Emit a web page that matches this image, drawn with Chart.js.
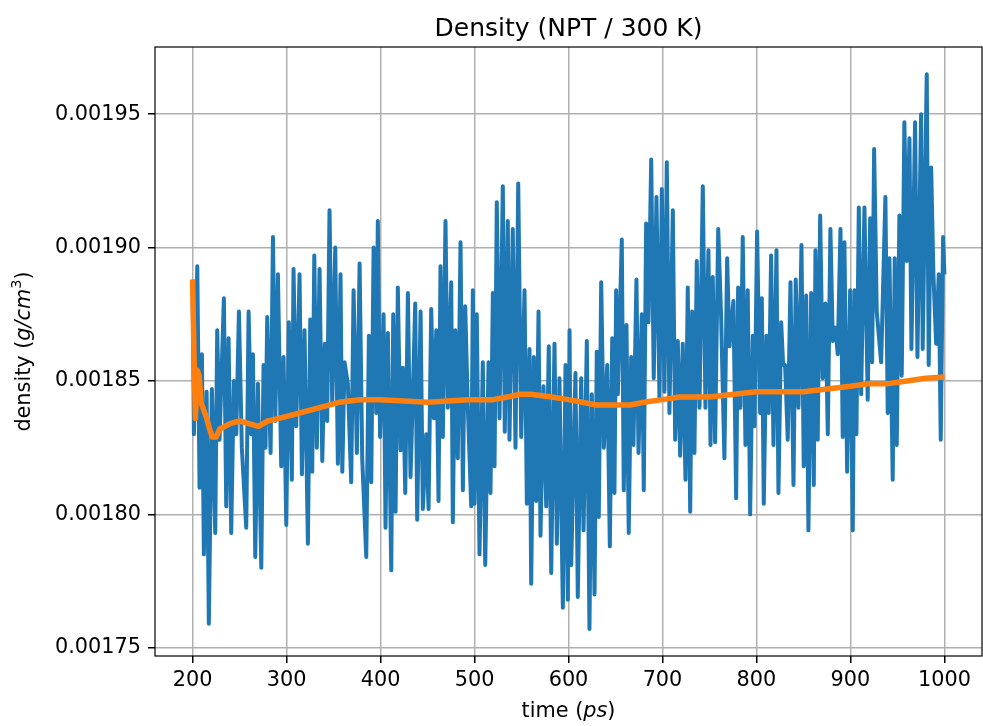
<!DOCTYPE html>
<html>
<head>
<meta charset="utf-8">
<script src="https://cdn.jsdelivr.net/npm/chart.js@4.4.1/dist/chart.umd.min.js"></script>
<style>
  body { margin: 0; background: #fff; }
  canvas { display: block; }
</style>
</head>
<body>
<canvas id="density" width="983" height="726"></canvas>
<script>
var titleText = "Density (NPT / 300 K)";

// instantaneous density (time in ps, density in 1e-5 g/cm3)
var timeRaw = [
  200.0, 201.4, 205.0, 207.4, 209.9, 212.0, 214.9, 217.3, 220.5, 224.1, 226.2, 228.7, 233.3, 235.8, 238.3, 241.1,
  243.9, 246.5, 249.3, 252.4, 257.1, 259.6, 262.4, 264.2, 266.7, 269.5, 273.1, 275.5, 277.6, 279.4, 283.0, 285.5,
  288.0, 290.8, 294.3, 296.8, 299.7, 302.4, 305.6, 307.4, 310.3, 313.8, 316.3, 319.1, 322.7, 325.2, 327.3, 329.5,
  332.2, 335.1, 338.0, 340.7, 343.2, 345.7, 348.6, 351.8, 354.6, 357.4, 359.3, 361.7, 365.2, 368.8, 371.3, 374.8,
  377.7, 380.5, 384.8, 387.6, 390.1, 392.6, 395.4, 397.1, 399.5, 403.2, 405.3, 407.8, 411.4, 413.5, 416.0, 418.4,
  421.3, 423.7, 426.3, 429.1, 431.9, 434.0, 436.9, 439.0, 442.6, 445.0, 448.6, 451.1, 453.9, 456.7, 459.3, 461.7,
  463.8, 466.3, 469.1, 471.6, 475.2, 476.9, 479.5, 482.2, 485.1, 487.6, 490.1, 492.9, 496.5, 498.2, 500.0, 502.4,
  505.3, 508.8, 511.4, 514.9, 517.0, 519.5, 521.3, 523.7, 526.6, 530.1, 532.2, 535.4, 537.2, 540.7, 543.6, 546.5,
  549.7, 553.2, 555.7, 558.5, 560.3, 563.1, 565.6, 568.1, 570.2, 573.4, 576.3, 579.0, 581.6, 585.1, 587.6, 590.4,
  594.0, 596.8, 599.3, 601.1, 602.9, 607.4, 609.9, 613.5, 616.0, 619.5, 622.3, 624.8, 627.7, 630.1, 632.2, 634.8,
  637.6, 641.2, 644.0, 646.5, 648.9, 650.7, 652.5, 656.7, 658.8, 661.7, 664.1, 666.7, 669.1, 672.3, 674.5, 678.0,
  680.1, 682.6, 685.1, 688.0, 690.7, 693.6, 696.8, 699.3, 702.1, 704.6, 707.4, 711.0, 713.5, 716.3, 718.8, 721.6,
  724.5, 726.9, 729.5, 731.6, 734.0, 736.5, 739.4, 742.9, 745.7, 748.9, 751.1, 753.5, 756.0, 759.3, 762.4, 765.9,
  768.8, 771.3, 775.5, 778.4, 780.5, 783.0, 785.4, 788.3, 790.7, 793.3, 796.1, 797.9, 800.7, 803.9, 805.7, 807.8,
  810.6, 813.1, 815.6, 818.1, 821.3, 823.4, 826.3, 828.4, 830.5, 833.3, 836.2, 839.4, 841.8, 844.7, 847.9, 850.3,
  852.9, 855.3, 858.2, 861.0, 862.8, 865.2, 867.8, 870.5, 873.4, 875.9, 878.7, 881.2, 884.0, 886.5, 889.4, 891.8,
  893.6, 896.5, 899.7, 902.5, 904.3, 906.4, 908.9, 911.4, 914.9, 918.4, 921.0, 923.1, 925.2, 928.0, 932.7, 937.2,
  939.7, 941.5, 945.0, 947.1, 949.3, 952.1, 954.6, 957.4, 959.9, 962.8, 964.9, 968.8, 971.3, 975.2, 976.9, 981.2,
  983.3, 985.9, 988.3, 991.2, 994.0, 996.1, 998.6, 1000.0
];
var densityRaw = [
  188.8, 183.0, 189.3, 181.0, 186.0, 178.5, 184.6, 175.9, 184.7, 179.3, 186.9, 182.8, 188.1, 180.3, 186.6, 179.3,
  185.0, 183.0, 187.6, 182.5, 179.5, 187.6, 183.0, 186.0, 178.4, 184.9, 178.0, 185.6, 182.5, 187.4, 182.3, 190.4,
  183.5, 189.0, 181.8, 185.9, 179.6, 187.2, 181.3, 189.2, 183.3, 189.0, 181.5, 186.9, 178.9, 187.3, 181.6, 189.7,
  182.5, 189.2, 182.0, 186.4, 183.5, 191.4, 184.1, 190.0, 181.9, 189.0, 181.6, 185.7, 184.9, 181.2, 188.4, 182.3,
  189.4, 182.1, 178.4, 186.7, 181.2, 190.0, 183.8, 191.0, 182.9, 187.5, 179.5, 186.8, 177.9, 187.5, 180.1, 188.5,
  182.4, 185.5, 180.8, 188.3, 181.4, 184.0, 187.9, 179.8, 187.6, 180.2, 183.0, 180.2, 187.7, 183.6, 186.9, 180.5,
  189.3, 182.9, 191.0, 184.0, 188.7, 179.7, 186.9, 182.1, 190.2, 180.9, 187.8, 184.0, 180.3, 188.4, 180.4, 187.5,
  178.5, 185.7, 178.1, 185.7, 180.8, 188.3, 181.8, 191.7, 183.6, 192.3, 183.1, 191.0, 182.8, 190.7, 182.5, 192.4,
  182.9, 188.4, 180.4, 186.2, 177.4, 185.9, 180.5, 187.6, 179.2, 184.8, 180.3, 186.3, 177.8, 186.4, 178.9, 185.1,
  176.5, 185.6, 176.8, 186.9, 178.1, 185.3, 176.9, 185.1, 179.4, 186.5, 175.7, 184.5, 177.0, 186.1, 179.9, 188.7,
  182.5, 185.6, 178.8, 186.6, 180.8, 188.4, 184.5, 190.3, 180.9, 187.1, 179.3, 185.9, 182.6, 188.8, 182.3, 187.5,
  180.9, 190.9, 187.2, 193.3, 185.1, 191.9, 184.3, 192.2, 184.6, 193.2, 183.8, 191.4, 182.8, 186.5, 182.2, 186.4,
  181.3, 188.5, 180.1, 187.6, 182.3, 189.5, 184.0, 192.3, 184.0, 189.9, 182.6, 188.9, 182.7, 190.7, 187.4, 182.1,
  189.6, 186.3, 188.0, 180.6, 188.5, 184.0, 190.4, 182.6, 188.4, 180.0, 186.7, 183.3, 190.6, 183.8, 188.1, 180.4,
  186.7, 183.8, 189.7, 182.6, 189.9, 180.8, 187.2, 185.6, 185.6, 182.8, 188.7, 181.1, 188.8, 184.0, 190.1, 181.8,
  188.2, 179.4, 188.3, 181.1, 189.9, 182.8, 191.2, 185.1, 187.9, 183.0, 190.7, 186.5, 187.0, 186.0, 190.7, 182.9,
  190.2, 181.6, 188.4, 179.4, 188.4, 183.0, 191.5, 184.5, 191.5, 184.3, 191.1, 185.7, 193.7, 187.6, 185.7, 191.9,
  183.8, 189.6, 181.3, 189.6, 182.6, 191.2, 185.2, 194.7, 189.5, 194.1, 186.2, 194.7, 185.9, 195.0, 186.2, 196.5,
  185.6, 193.0, 189.0, 186.4, 189.0, 182.8, 190.4, 189.0
];

// running average
var timeAvg = [
  200, 201.5, 203, 205, 207, 209, 212, 215, 218, 221, 225, 229, 240, 250, 260, 270,
  280, 292, 314, 335, 356, 378, 400, 450, 493, 520, 535, 549, 560, 582, 600, 630,
  666, 680, 700, 718, 750, 800, 850, 900, 920, 940, 960, 980, 1000
];
var densityAvg = [
  188.8, 186.0, 183.6, 185.4, 185.2, 184.2, 183.9, 183.6, 183.2, 182.9, 182.9, 183.2, 183.4, 183.5, 183.4, 183.3,
  183.5, 183.6, 183.8, 184.0, 184.2, 184.3, 184.3, 184.2, 184.3, 184.3, 184.4, 184.5, 184.5, 184.4, 184.3, 184.1,
  184.1, 184.2, 184.3, 184.4, 184.4, 184.6, 184.6, 184.8, 184.9, 184.9, 185.0, 185.1, 185.15
];

var xTicks = [200, 300, 400, 500, 600, 700, 800, 900, 1000];
var yTicks = [0.00175, 0.00180, 0.00185, 0.00190, 0.00195];

function toPoints(ts, vs) {
  return ts.map(function (t, i) { return { x: t, y: vs[i] * 1e-5 }; });
}

// draws text made of plain / italic / superscript pieces, centred on (cx, cy)
function drawPieces(ctx, pieces, cx, cy, size) {
  var fonts = pieces.map(function (p) {
    var s = p.sup ? size * 0.7 : size;
    return (p.it ? "oblique " : "") + s + 'px "DejaVu Sans"';
  });
  var total = 0;
  pieces.forEach(function (p, i) { ctx.font = fonts[i]; total += ctx.measureText(p.t).width; });
  var x = cx - total / 2;
  ctx.textAlign = "left";
  ctx.textBaseline = "alphabetic";
  pieces.forEach(function (p, i) {
    ctx.font = fonts[i];
    ctx.fillText(p.t, x, p.sup ? cy - size * 0.45 : cy);
    x += ctx.measureText(p.t).width;
  });
}

var framePlugin = {
  id: "framePlugin",
  afterDraw: function (chart) {
    var ctx = chart.ctx, a = chart.chartArea;
    var cx = (a.left + a.right) / 2;
    ctx.save();
    ctx.strokeStyle = "#000";
    ctx.lineWidth = 1.2;
    ctx.strokeRect(a.left, a.top, a.right - a.left, a.bottom - a.top);

    ctx.fillStyle = "#000";
    ctx.font = '25px "DejaVu Sans"';
    ctx.textAlign = "center";
    ctx.textBaseline = "alphabetic";
    ctx.fillText(titleText, cx, 36);

    drawPieces(ctx, [{ t: "time (" }, { t: "ps", it: true }, { t: ")" }], cx, 717, 20.8);

    ctx.translate(30, (a.top + a.bottom) / 2);
    ctx.rotate(-Math.PI / 2);
    drawPieces(ctx, [{ t: "density (" }, { t: "g/cm", it: true }, { t: "3", sup: true }, { t: ")" }], 0, 0, 20.8);
    ctx.restore();
  }
};

Chart.defaults.font.family = "DejaVu Sans";

var ctx = document.getElementById("density");

new Chart(ctx, {
  type: "line",
  data: {
    datasets: [
      {
        data: toPoints(timeRaw, densityRaw),
        borderColor: "#1f77b4",
        borderWidth: 4,
        borderJoinStyle: "round",
        pointRadius: 0,
        tension: 0,
        order: 2
      },
      {
        data: toPoints(timeAvg, densityAvg),
        borderColor: "#ff7f0e",
        borderWidth: 5.5,
        borderJoinStyle: "round",
        pointRadius: 0,
        tension: 0,
        order: 1
      }
    ]
  },
  options: {
    responsive: false,
    animation: false,
    devicePixelRatio: 1,
    layout: { padding: { top: 47, right: 1, left: 0, bottom: 0 } },
    plugins: {
      legend: { display: false },
      tooltip: { enabled: false },
      title: { display: false }
    },
    scales: {
      x: {
        type: "linear",
        min: 160,
        max: 1040,
        afterBuildTicks: function (s) { s.ticks = xTicks.map(function (v) { return { value: v }; }); },
        afterFit: function (s) { s.height = 70; },
        border: { display: false },
        grid: { color: "#b0b0b0", lineWidth: 1.5, tickLength: 7, tickColor: "#000", tickWidth: 1.5 },
        ticks: {
          color: "#000",
          font: { size: 20.8 },
          padding: 5,
          maxRotation: 0,
          callback: function (v) { return String(v); }
        }
      },
      y: {
        type: "linear",
        min: 0.0017469,
        max: 0.0019752,
        afterBuildTicks: function (s) { s.ticks = yTicks.map(function (v) { return { value: v }; }); },
        afterFit: function (s) { s.width = 155; },
        border: { display: false },
        grid: { color: "#b0b0b0", lineWidth: 1.5, tickLength: 7, tickColor: "#000", tickWidth: 1.5 },
        ticks: {
          color: "#000",
          font: { size: 20.8 },
          padding: 7,
          callback: function (v) { return v.toFixed(5); }
        }
      }
    }
  },
  plugins: [framePlugin]
});
</script>
</body>
</html>
